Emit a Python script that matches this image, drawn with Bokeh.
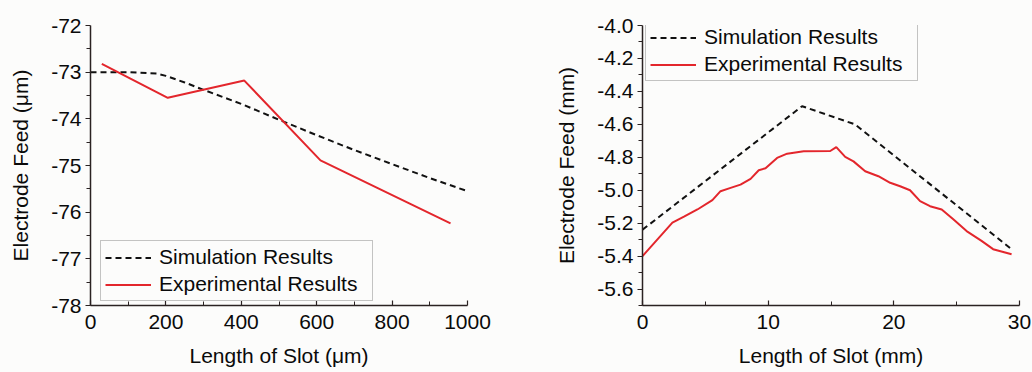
from bokeh.plotting import figure
from bokeh.layouts import row
from bokeh.models import Range1d, FixedTicker, PrintfTickFormatter, Legend, LegendItem
from bokeh.embed import file_html
from bokeh.resources import INLINE

# ---- left panel: slot length in micrometres ----
um_sim_x = [0, 100, 175, 200, 250, 300, 400, 500, 600, 700, 800, 900, 1000]
um_sim_y = [-73.0, -73.0, -73.03, -73.08, -73.22, -73.38, -73.68, -74.02, -74.35, -74.67, -74.97, -75.27, -75.55]
um_exp_x = [30, 205, 408, 610, 955]
um_exp_y = [-72.82, -73.55, -73.18, -74.89, -76.24]
um_xticks = [0, 200, 400, 600, 800, 1000]
um_yticks = [-78, -77, -76, -75, -74, -73, -72]

# ---- right panel: slot length in millimetres ----
mm_sim_x = [0, 12.7, 16.9, 29.4]
mm_sim_y = [-5.24, -4.49, -4.60, -5.36]
mm_exp_x = [0, 2.38, 3.30, 4.37, 5.56, 6.21, 7.01, 7.80, 8.60, 9.25, 9.79, 10.71, 11.51,
            12.83, 14.94, 15.42, 16.13, 16.79, 17.72, 18.77, 19.71, 20.50, 21.29, 22.09,
            22.88, 23.81, 24.73, 25.79, 26.98, 27.90, 29.37]
mm_exp_y = [-5.40, -5.197, -5.161, -5.117, -5.060, -5.006, -4.986, -4.966, -4.931, -4.879,
            -4.867, -4.804, -4.778, -4.764, -4.762, -4.738, -4.798, -4.825, -4.885, -4.915,
            -4.955, -4.976, -5.000, -5.066, -5.097, -5.117, -5.177, -5.248, -5.308, -5.358,
            -5.389]
mm_xticks = [0, 10, 20, 30]
mm_yticks = [-5.6, -5.4, -5.2, -5.0, -4.8, -4.6, -4.4, -4.2, -4.0]

SIM_LABEL = "Simulation Results"
EXP_LABEL = "Experimental Results"

FONT = "Liberation Sans"
BG = "#fcfcfb"
RED = "#e3262c"
AXIS = "#2a2222"
TEXT = "#0a0a0a"


def make_panel(x_range, y_range, xticks, xminor, yticks, yminor, yfmt, xlabel, ylabel,
               border_left, border_right, border_top, border_bottom):
    p = figure(output_backend="svg", toolbar_location=None,
               frame_width=377, frame_height=280,
               x_range=x_range, y_range=y_range,
               min_border_left=border_left, min_border_right=border_right,
               min_border_top=border_top, min_border_bottom=border_bottom,
               background_fill_color=BG, border_fill_color=BG)
    p.outline_line_color = None
    p.grid.visible = False

    p.xaxis.ticker = FixedTicker(ticks=xticks, minor_ticks=xminor)
    p.yaxis.ticker = FixedTicker(ticks=yticks, minor_ticks=yminor)
    p.yaxis.formatter = PrintfTickFormatter(format=yfmt)

    for ax in (p.xaxis, p.yaxis):
        ax.axis_line_color = AXIS
        ax.axis_line_width = 1.5
        ax.major_tick_line_color = AXIS
        ax.minor_tick_line_color = AXIS
        ax.major_tick_line_width = 1.2
        ax.minor_tick_line_width = 1.0
        ax.major_label_text_font = FONT
        ax.major_label_text_font_size = "21px"
        ax.major_label_text_color = TEXT
        ax.axis_label_text_font = FONT
        ax.axis_label_text_font_size = "21px"
        ax.axis_label_text_font_style = "normal"
        ax.axis_label_text_color = TEXT

    # ticks point inward on the x axis and outward on the y axis
    p.xaxis.major_tick_in = 5
    p.xaxis.major_tick_out = 0
    p.xaxis.minor_tick_in = 4
    p.xaxis.minor_tick_out = 0
    p.xaxis.major_label_standoff = 9
    p.xaxis.axis_label_standoff = 12
    p.yaxis.major_tick_in = 0
    p.yaxis.major_tick_out = 5
    p.yaxis.minor_tick_in = 0
    p.yaxis.minor_tick_out = 4
    p.yaxis.major_label_standoff = 4
    p.yaxis.axis_label_standoff = 16

    p.xaxis.axis_label = xlabel
    p.yaxis.axis_label = ylabel
    return p


def add_legend(p, sim_r, exp_r, loc):
    leg = Legend(items=[LegendItem(label=SIM_LABEL, renderers=[sim_r]),
                        LegendItem(label=EXP_LABEL, renderers=[exp_r])],
                 location=loc, orientation="vertical",
                 label_text_font=FONT, label_text_font_size="21px", label_text_color=TEXT,
                 glyph_width=46, glyph_height=23, label_height=23, label_width=209,
                 label_standoff=8, spacing=3, padding=4, margin=0,
                 border_line_color="#8a8a8a", border_line_width=1,
                 background_fill_color=BG, background_fill_alpha=1.0)
    p.add_layout(leg, "center")


# left panel
p1 = make_panel(Range1d(0, 1000), Range1d(-78, -72),
                um_xticks, [100, 300, 500, 700, 900],
                um_yticks, [-77.5, -76.5, -75.5, -74.5, -73.5, -72.5], "%d",
                "Length of Slot (\u03bcm)", "Electrode Feed (\u03bcm)",
                90, 53, 23, 69)
s1 = p1.line(um_sim_x, um_sim_y, line_color="#111111", line_width=2, line_dash="6 4")
e1 = p1.line(um_exp_x, um_exp_y, line_color=RED, line_width=2)
add_legend(p1, s1, e1, (10, 4))

# right panel
p2 = make_panel(Range1d(0, 30), Range1d(-5.7, -4.0),
                mm_xticks, [5, 15, 25],
                mm_yticks, [-5.7, -5.5, -5.3, -5.1, -4.9, -4.7, -4.5, -4.3, -4.1], "%.1f",
                "Length of Slot (mm)", "Electrode Feed (mm)",
                122, 13, 25, 67)
s2 = p2.line(mm_sim_x, mm_sim_y, line_color="#111111", line_width=2, line_dash="6 4")
e2 = p2.line(mm_exp_x, mm_exp_y, line_color=RED, line_width=2)
add_legend(p2, s2, e2, (3, 224))

layout = row(p1, p2, sizing_mode="fixed")
layout.styles = {"background-color": BG}

open("out.html", "w").write(file_html(layout, INLINE))
